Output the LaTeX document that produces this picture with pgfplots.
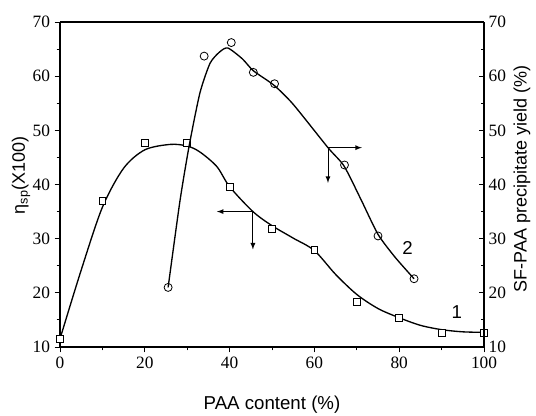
\documentclass[border=0pt]{standalone}
\usepackage{fontspec}
\setmainfont{Liberation Serif}
\newfontfamily\arial{Liberation Sans}
\usepackage{pgfplots}
\pgfplotsset{compat=1.18}
\begin{document}
\begin{tikzpicture}
\useasboundingbox (-45pt,-51.75pt) rectangle (357pt,260.25pt);
\pgfplotsset{
  every axis/.append style={
    scale only axis, width=318pt, height=243.75pt,
    xmin=0, xmax=100, ymin=10, ymax=70,
    /pgf/number format/assume math mode=true,
    tick label style={font=\fontsize{13}{14}\selectfont},
    axis line style={line width=0.9pt},
    major tick length=4pt, minor tick length=2.5pt,
    every tick/.style={black, line width=0.7pt},
  }
}
\begin{axis}[
  axis x line*=bottom, axis y line*=left,
  xtick={0,20,...,100}, ytick={10,20,...,70},
  minor x tick num=1, minor y tick num=1,
  tick align=outside,
  xlabel={\arial\fontsize{14}{16}\selectfont PAA content (\%)},
  xlabel style={at={(axis description cs:0.5,-0.178)}, anchor=center},
  ylabel={\arial\fontsize{13.5}{15}\selectfont η\textsubscript{sp}(X100)},
  ylabel style={at={(axis description cs:-0.092,0.529)}, anchor=center},
  clip=false,
]
% top border line
\draw[line width=0.9pt] (axis cs:0,70) -- (axis cs:100,70);
% fitted curve 1
\addplot[black, line width=1pt, smooth, tension=0.5] coordinates {
 (0,11.5) (5,24.2) (10,35.8) (15,43) (20,46.4) (26,47.4) (30,47.1) (33,46) (37,43.3)
 (40,39.6) (45.5,35) (50,32.4) (55,30.1) (60,27.8) (65,23.4) (70,19.7) (75,17.1)
 (80,15.4) (85,14) (90,13.2) (95,12.8) (100,12.7)};
% data 1
\addplot[only marks, mark=square*, mark size=2.6pt, mark options={fill=white, draw=black, line width=0.6pt}] coordinates {
 (0,11.5) (10,37) (20,47.6) (30,47.6) (40,39.5) (50,31.8) (60,28) (70,18.4) (80,15.4) (90,12.6) (100,12.6)};
% arrows for curve 1
\draw[line width=0.7pt, -latex] (axis cs:45.5,35) -- (axis cs:37,35);
\draw[line width=0.7pt, -latex] (axis cs:45.5,35) -- (axis cs:45.5,28);
\node[font=\arial\fontsize{14}{16}\selectfont] at (axis cs:93.6,16.5) {1};
\end{axis}
\begin{axis}[
  axis x line=none, axis y line*=right,
  ytick={10,20,...,70}, minor y tick num=1,
  tick align=inside,
  ylabel={\arial\fontsize{13.5}{15}\selectfont SF-PAA precipitate yield (\%)},
  ylabel style={at={(axis description cs:1.0896,0.518)}, anchor=center},
  clip=false,
]
% fitted curve 2
\addplot[black, line width=1pt, smooth, tension=0.4] coordinates {
 (25.5,21) (28.3,37) (30.5,47.3) (33,56.9) (35.4,62.4) (37.7,64.5) (39.6,65.2)
 (43,63.2) (45.6,61) (50.5,58.3) (55,54.8) (63.2,46.8) (67,43.4)
 (71,37.2) (75,30.8) (79,26.6) (83.5,22.6)};
% data 2
\addplot[only marks, mark=o, mark size=3pt, mark options={fill=white, draw=black, line width=0.6pt}] coordinates {
 (25.5,21) (34,63.7) (40.4,66.2) (45.6,60.7) (50.6,58.6) (67.1,43.6) (75,30.5) (83.5,22.6)};
% arrows for curve 2
\draw[line width=0.7pt, -latex] (axis cs:63.2,46.8) -- (axis cs:71.2,46.8);
\draw[line width=0.7pt, -latex] (axis cs:63.2,46.8) -- (axis cs:63.2,40.3);
\node[font=\arial\fontsize{14}{16}\selectfont] at (axis cs:82,28.3) {2};
\end{axis}
\end{tikzpicture}
\end{document}
